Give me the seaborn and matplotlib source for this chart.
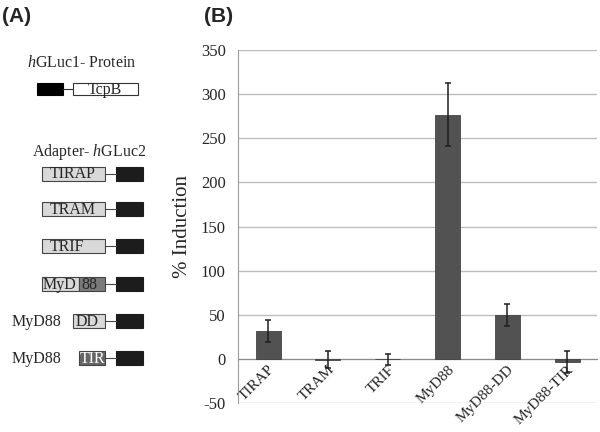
"""Recreate the split-luciferase induction figure (schematic + bar chart)."""

import matplotlib
matplotlib.use("Agg")
import matplotlib.pyplot as plt
from matplotlib.patches import Rectangle
from matplotlib.ticker import MultipleLocator
import seaborn as sns

# Chart data
categories = ["TIRAP", "TRAM", "TRIF", "MyD88", "MyD88-DD", "MyD88-TIR"]
induction = [32, -1, -0.5, 277, 49.5, -4]
induction_err = [12.5, 9.5, 6, 36, 12.5, 12.5]
y_ticks = [-50, 0, 50, 100, 150, 200, 250, 300, 350]

# Schematic constructs (panel A)
construct_names = ["TIRAP", "TRAM", "TRIF", "MyD88", "DD", "TIR"]
construct_prefix = ["", "", "", "", "MyD88", "MyD88"]

sns.set_style("white")
plt.rcParams["font.family"] = ["Liberation Serif", "DejaVu Serif"]
plt.rcParams["axes.unicode_minus"] = False
plt.rcParams["mathtext.fontset"] = "custom"
plt.rcParams["mathtext.rm"] = "Liberation Serif"
plt.rcParams["mathtext.it"] = "Liberation Serif:italic"

fig = plt.figure(figsize=(6.0, 4.32), dpi=100)

# ---- Panel B: bar chart ----
ax = fig.add_axes([0.397, 0.067, 0.598, 0.817])
sns.barplot(x=categories, y=induction, color="#525252", width=0.42,
            edgecolor="#444444", linewidth=0.6, ax=ax, zorder=3)
ax.errorbar(range(len(categories)), induction, yerr=induction_err, fmt="none",
            ecolor="#1e1e1e", elinewidth=1.1, capsize=2.2, capthick=1.1, zorder=4)

ax.set_xlim(-0.5, len(categories) - 0.5)
ax.set_ylim(-50, 350)
ax.set_yticks(y_ticks)
ax.yaxis.grid(True, color="#bdbdbd", linewidth=1.0, zorder=0)
ax.set_axisbelow(True)
ax.tick_params(axis="y", length=0, pad=9, labelsize=12)
ax.set_ylabel("% Induction", fontsize=15, labelpad=6)

# x axis sits on zero, Excel style: labels at centres, ticks between categories
for side in ["top", "right"]:
    ax.spines[side].set_visible(False)
ax.spines["bottom"].set_position(("data", 0))
ax.spines["bottom"].set_color("#8a8a8a")
ax.spines["left"].set_color("#9a9a9a")
ax.xaxis.set_minor_locator(MultipleLocator(1, offset=0.5))
ax.tick_params(axis="x", which="major", length=0, pad=3)
ax.tick_params(axis="x", which="minor", length=4, color="#8a8a8a", direction="out")
ax.set_xticks(range(len(categories)))
ax.set_xticklabels(categories, rotation=45, ha="right", va="top",
                   rotation_mode="anchor", fontsize=11)
ax.set_xlabel("")

# ---- Panel A: construct schematic (pixel coordinates) ----
sk = fig.add_axes([0, 0, 1, 1], zorder=-1)
sk.set_xlim(0, 600)
sk.set_ylim(432, 0)
sk.axis("off")

fig.text(2 / 600, 1 - 16 / 432, "(A)", family="Liberation Sans", weight="bold",
         fontsize=15, va="center", ha="left")
fig.text(204 / 600, 1 - 16 / 432, "(B)", family="Liberation Sans", weight="bold",
         fontsize=15, va="center", ha="left")

txt = dict(fontsize=11.5, va="center")

# hGLuc1 - TcpB
sk.text(27, 63, r"$\it{h}$GLuc1- Protein", **txt)
sk.add_patch(Rectangle((37, 83), 26, 12, facecolor="black", edgecolor="black", lw=0.8))
sk.plot([63, 73], [89, 89], color="#333333", lw=0.8)
sk.add_patch(Rectangle((73, 83), 65, 12, facecolor="white", edgecolor="#333333", lw=0.8))
sk.text(105, 90, "TcpB", ha="center", **txt)

sk.text(32, 152, r"Adapter- $\it{h}$GLuc2", **txt)

row_y = [173.5, 209, 246, 284, 321, 358]
box_left = [42, 42, 42, 42, 73, 79]
for name, prefix, yc, x0 in zip(construct_names, construct_prefix, row_y, box_left):
    top = yc - 7
    if name == "MyD88":
        sk.add_patch(Rectangle((x0, top), 79 - x0, 14, facecolor="#d9d9d9",
                               edgecolor="#444444", lw=0.8))
        sk.add_patch(Rectangle((79, top), 26, 14, facecolor="#7a7a7a",
                               edgecolor="#444444", lw=0.8))
        sk.text(43, yc + 1, "MyD", ha="left", **txt)
        sk.text(81, yc + 1, "88", ha="left", **txt)
    elif name == "TIR":
        sk.add_patch(Rectangle((x0, top), 105 - x0, 14, facecolor="#666666",
                               edgecolor="#444444", lw=0.8))
        sk.text(92, yc + 1, name, ha="center", color="white", **txt)
    else:
        sk.add_patch(Rectangle((x0, top), 105 - x0, 14, facecolor="#d9d9d9",
                               edgecolor="#444444", lw=0.8))
        sk.text(x0 + (8 if x0 == 42 else 3), yc + 1, name, ha="left", **txt)
    if prefix:
        sk.text(12, yc + 1, prefix, ha="left", **txt)
    sk.plot([105, 116], [yc, yc], color="#444444", lw=0.8)
    sk.add_patch(Rectangle((116, top), 27, 14, facecolor="#1c1c1c",
                           edgecolor="#1c1c1c", lw=0.8))

fig.savefig("out.png", dpi=100)
plt.close(fig)
